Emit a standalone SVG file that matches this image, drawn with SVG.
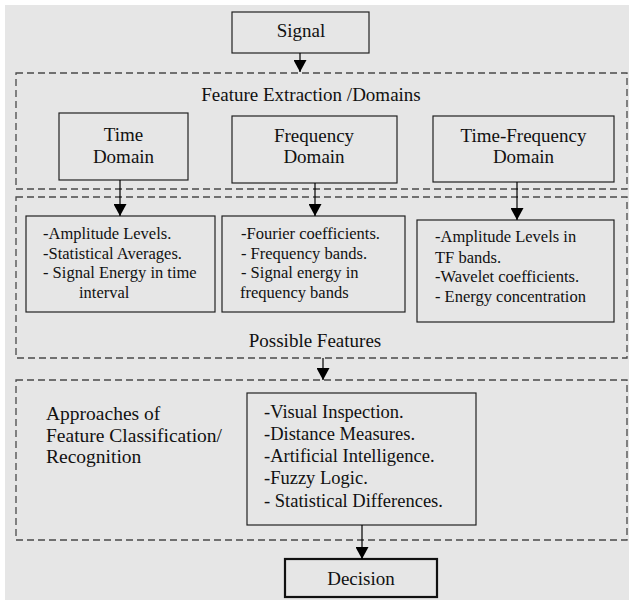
<svg xmlns="http://www.w3.org/2000/svg" width="629" height="600" viewBox="0 0 629 600" font-family="'Liberation Serif', 'Times New Roman', serif">
<defs>
<marker id="ah" viewBox="0 0 12 13" refX="12" refY="6.5" markerWidth="12" markerHeight="13" markerUnits="userSpaceOnUse" orient="auto">
<path d="M0,0 L12,6.5 L0,13 Z" fill="#000"/>
</marker>
<style>
text{font-family:"Liberation Serif","Times New Roman",serif;fill:#111;}
.h{font-size:19px;text-anchor:middle;}
.b{font-size:16.5px;}
.d{font-size:18.5px;}
.a{font-size:19.5px;}
.box{fill:none;stroke:#222;stroke-width:1.2;}
.dash{fill:none;stroke:#4a4a4a;stroke-width:1.3;stroke-dasharray:7 4;}
.con{stroke:#000;stroke-width:1.2;fill:none;marker-end:url(#ah);}
</style>
</defs>
<rect x="0" y="0" width="629" height="600" fill="#ffffff"/>
<rect x="5" y="5" width="624" height="595" fill="#e6e6e6"/>

<g id="feature-extraction">
<rect class="dash" x="16" y="73" width="611" height="116"/>
<text class="h" x="311" y="101">Feature Extraction /Domains</text>
</g>
<g id="possible-features">
<rect class="dash" x="16" y="197" width="611" height="161"/>
<text class="h" x="315" y="347">Possible Features</text>
</g>
<g id="approaches">
<rect class="dash" x="16" y="380" width="611" height="160"/>
<text class="a" x="46" y="420">Approaches of</text>
<text class="a" x="46" y="442">Feature Classification/</text>
<text class="a" x="46" y="463">Recognition</text>
</g>

<g id="signal">
<rect class="box" x="232" y="12" width="137" height="41"/>
<text class="h" x="301" y="37">Signal</text>
</g>
<g id="time-domain">
<rect class="box" x="59" y="113" width="129" height="67"/>
<text class="h" x="123.5" y="141">Time</text>
<text class="h" x="123.5" y="163">Domain</text>
</g>
<g id="frequency-domain">
<rect class="box" x="232" y="116" width="165" height="67"/>
<text class="h" x="314" y="142">Frequency</text>
<text class="h" x="314" y="163">Domain</text>
</g>
<g id="tf-domain">
<rect class="box" x="433" y="116" width="181" height="66"/>
<text class="h" x="523.5" y="142">Time-Frequency</text>
<text class="h" x="523.5" y="163">Domain</text>
</g>
<g id="time-features">
<rect class="box" x="26" y="216" width="189" height="96"/>
<text class="b" x="43" y="239">-Amplitude Levels.</text>
<text class="b" x="43" y="259">-Statistical Averages.</text>
<text class="b" x="43" y="278">- Signal Energy in time</text>
<text class="b" x="79" y="298">interval</text>
</g>
<g id="frequency-features">
<rect class="box" x="222" y="216" width="183" height="96"/>
<text class="b" x="241" y="239">-Fourier coefficients.</text>
<text class="b" x="241" y="259">- Frequency bands.</text>
<text class="b" x="241" y="278">- Signal energy in</text>
<text class="b" x="240" y="298">frequency bands</text>
</g>
<g id="tf-features">
<rect class="box" x="417" y="220" width="197" height="102"/>
<text class="b" x="435" y="242">-Amplitude Levels in</text>
<text class="b" x="435" y="263">TF bands.</text>
<text class="b" x="435" y="282">-Wavelet coefficients.</text>
<text class="b" x="435" y="302">- Energy concentration</text>
</g>
<g id="methods">
<rect class="box" x="247" y="393" width="229" height="132"/>
<text class="d" x="264" y="418">-Visual Inspection.</text>
<text class="d" x="264" y="440">-Distance Measures.</text>
<text class="d" x="264" y="462">-Artificial Intelligence.</text>
<text class="d" x="264" y="484">-Fuzzy Logic.</text>
<text class="d" x="264" y="507">- Statistical Differences.</text>
</g>
<g id="decision">
<rect x="285" y="559" width="152" height="38" fill="none" stroke="#111" stroke-width="2.2"/>
<text class="h" x="361" y="585">Decision</text>
</g>

<g id="connectors">
<line class="con" x1="300" y1="53" x2="300" y2="72"/>
<line class="con" x1="120" y1="180" x2="120" y2="216"/>
<line class="con" x1="315" y1="183" x2="315" y2="216"/>
<line class="con" x1="517" y1="182" x2="517" y2="220"/>
<line class="con" x1="323" y1="358" x2="323" y2="380"/>
<line class="con" x1="362" y1="525" x2="362" y2="559"/>
</g>
</svg>
